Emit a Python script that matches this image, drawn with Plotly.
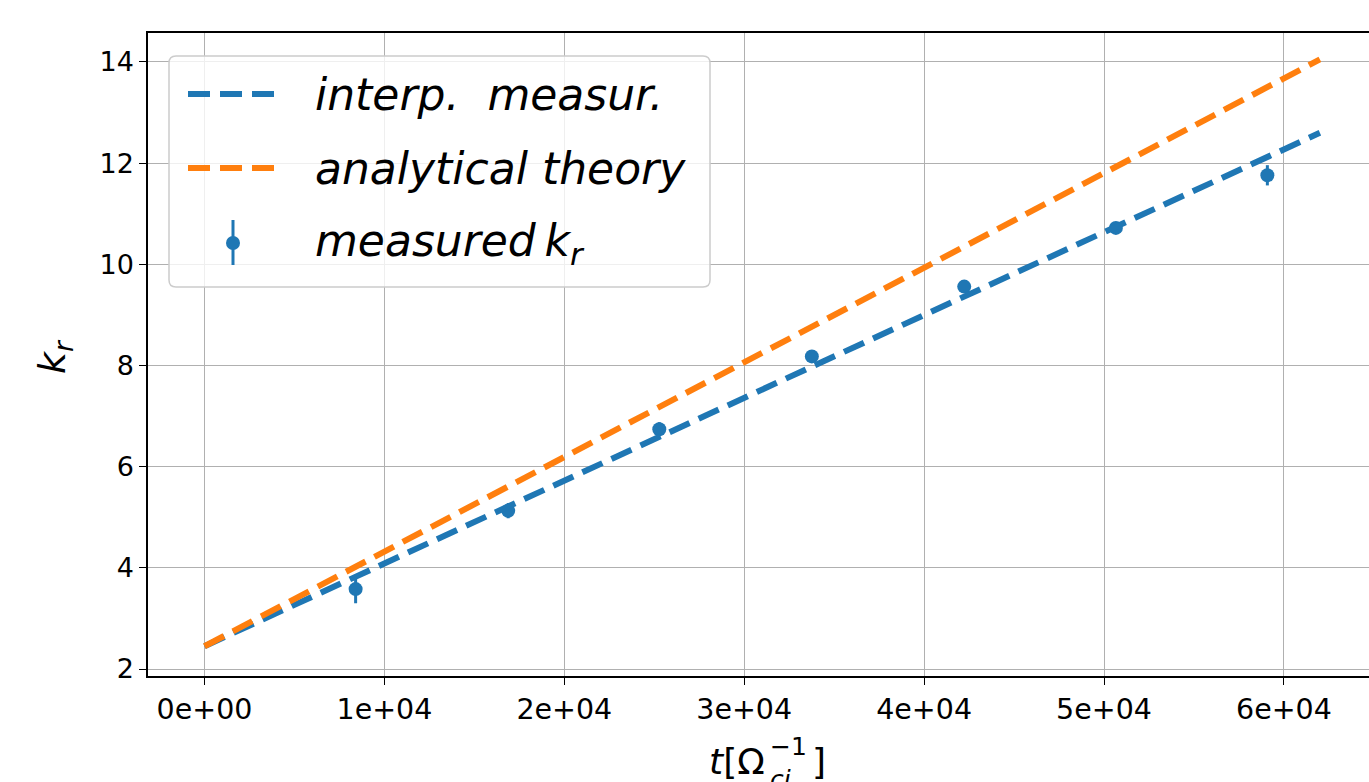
import plotly.graph_objects as go

# ---------------- data ----------------
t_meas = [8400, 16880, 25280, 33760, 42230, 50660, 59080]
k_meas = [3.58, 5.13, 6.74, 8.18, 9.56, 10.72, 11.76]
k_err = [0.28, 0.15, 0.14, 0.12, 0.10, 0.08, 0.20]

t_fit = [0, 62000]
k_interp = [2.45, 12.60]
k_theory = [2.45, 14.05]

x_tickvals = [0, 10000, 20000, 30000, 40000, 50000, 60000]
x_ticktext = ["0e+00", "1e+04", "2e+04", "3e+04", "4e+04", "5e+04", "6e+04"]
y_tickvals = [2, 4, 6, 8, 10, 12, 14]

BLUE = "#1f77b4"
ORANGE = "#ff7f0e"
FONT = "DejaVu Sans"

W, H = 1369, 782
L, T, B, R = 148, 33, 106, 0
PW, PH = W - L - R, H - T - B


def px(x):
    return (x - L) / PW


def py(y):
    return (H - B - y) / PH


fig = go.Figure()

fig.add_trace(go.Scatter(
    x=t_meas, y=k_meas, mode="markers", name="measured k_r",
    marker=dict(color=BLUE, size=14),
    error_y=dict(type="data", array=k_err, visible=True, color=BLUE,
                 thickness=3, width=0),
    showlegend=False,
))
fig.add_trace(go.Scatter(
    x=t_fit, y=k_interp, mode="lines", name="interp. measur.",
    line=dict(color=BLUE, width=6, dash="22px,10px"), showlegend=False,
))
fig.add_trace(go.Scatter(
    x=t_fit, y=k_theory, mode="lines", name="analytical theory",
    line=dict(color=ORANGE, width=6, dash="22px,10px"), showlegend=False,
))

# ---------------- manual legend (matplotlib style) ----------------
x0, x1, y0, y1, r = 169, 710, 56, 287, 7
path = (f"M {px(x0 + r)},{py(y0)} L {px(x1 - r)},{py(y0)} "
        f"Q {px(x1)},{py(y0)} {px(x1)},{py(y0 + r)} "
        f"L {px(x1)},{py(y1 - r)} Q {px(x1)},{py(y1)} {px(x1 - r)},{py(y1)} "
        f"L {px(x0 + r)},{py(y1)} Q {px(x0)},{py(y1)} {px(x0)},{py(y1 - r)} "
        f"L {px(x0)},{py(y0 + r)} Q {px(x0)},{py(y0)} {px(x0 + r)},{py(y0)} Z")
shapes = [dict(type="path", xref="paper", yref="paper", path=path,
               line=dict(color="#cccccc", width=1.5),
               fillcolor="rgba(255,255,255,0.8)", layer="above")]

rows_y = [94, 168, 243]
shapes.append(dict(type="line", xref="paper", yref="paper",
                   x0=px(188), x1=px(278), y0=py(rows_y[0]), y1=py(rows_y[0]),
                   line=dict(color=BLUE, width=6, dash="22px,10px"), layer="above"))
shapes.append(dict(type="line", xref="paper", yref="paper",
                   x0=px(188), x1=px(278), y0=py(rows_y[1]), y1=py(rows_y[1]),
                   line=dict(color=ORANGE, width=6, dash="22px,10px"), layer="above"))
shapes.append(dict(type="line", xref="paper", yref="paper",
                   x0=px(233), x1=px(233), y0=py(rows_y[2] - 23), y1=py(rows_y[2] + 22),
                   line=dict(color=BLUE, width=3), layer="above"))
shapes.append(dict(type="circle", xref="paper", yref="paper",
                   x0=px(226), x1=px(240), y0=py(rows_y[2] - 7), y1=py(rows_y[2] + 7),
                   line=dict(color=BLUE, width=0), fillcolor=BLUE, layer="above"))

annotations = []
leg_texts = ["<i>interp.  measur.</i>", "<i>analytical theory</i>",
             "<i>measured</i>\u2009<i>k</i><sub><i>r</i></sub>"]
for txt, yy in zip(leg_texts, rows_y):
    annotations.append(dict(xref="paper", yref="paper", x=px(313), y=py(yy),
                            xanchor="left", yanchor="middle", text=txt,
                            showarrow=False, font=dict(family=FONT, size=44, color="black")))

# x-axis label  t[Ω_ci^-1]  (sub/superscript stacked as in the reference)
lab = 36
annotations += [
    dict(xref="paper", yref="paper", x=px(767), y=py(761), xanchor="right", yanchor="middle",
         text="<i>t</i>[Ω", showarrow=False, font=dict(family=FONT, size=lab, color="black")),
    dict(xref="paper", yref="paper", x=px(768), y=py(763), xanchor="left", yanchor="middle",
         align="left", text="−1<br><i>ci</i>", showarrow=False,
         font=dict(family=FONT, size=25, color="black")),
    dict(xref="paper", yref="paper", x=px(810), y=py(761), xanchor="left", yanchor="middle",
         text="]", showarrow=False, font=dict(family=FONT, size=lab, color="black")),
]
# y-axis label k_r
annotations.append(dict(xref="paper", yref="paper", x=px(54), y=py(357),
                        xanchor="center", yanchor="middle", textangle=-90,
                        text="<i>k</i><sub><i>r</i></sub>", showarrow=False,
                        font=dict(family=FONT, size=38, color="black")))

fig.update_layout(
    width=W, height=H,
    margin=dict(l=L, r=R, t=T, b=B, pad=0),
    paper_bgcolor="white", plot_bgcolor="white",
    showlegend=False,
    font=dict(family=FONT, size=27, color="black"),
    shapes=shapes, annotations=annotations,
)
fig.update_xaxes(
    range=[-3141, 64730], tickvals=x_tickvals, ticktext=x_ticktext,
    showgrid=True, gridcolor="#b0b0b0", gridwidth=1.3,
    showline=True, linecolor="black", linewidth=1.5, mirror=True,
    ticks="outside", ticklen=7, tickwidth=1.3, tickcolor="black",
    zeroline=False, tickfont=dict(family=FONT, size=28.5, color="black"),
)
fig.update_yaxes(
    range=[1.862, 14.573], tickvals=y_tickvals,
    showgrid=True, gridcolor="#b0b0b0", gridwidth=1.3,
    showline=True, linecolor="black", linewidth=1.5, mirror=False,
    ticks="outside", ticklen=7, tickwidth=1.3, tickcolor="black",
    zeroline=False, tickfont=dict(family=FONT, size=27, color="black"),
)

fig.write_html("out.html")
